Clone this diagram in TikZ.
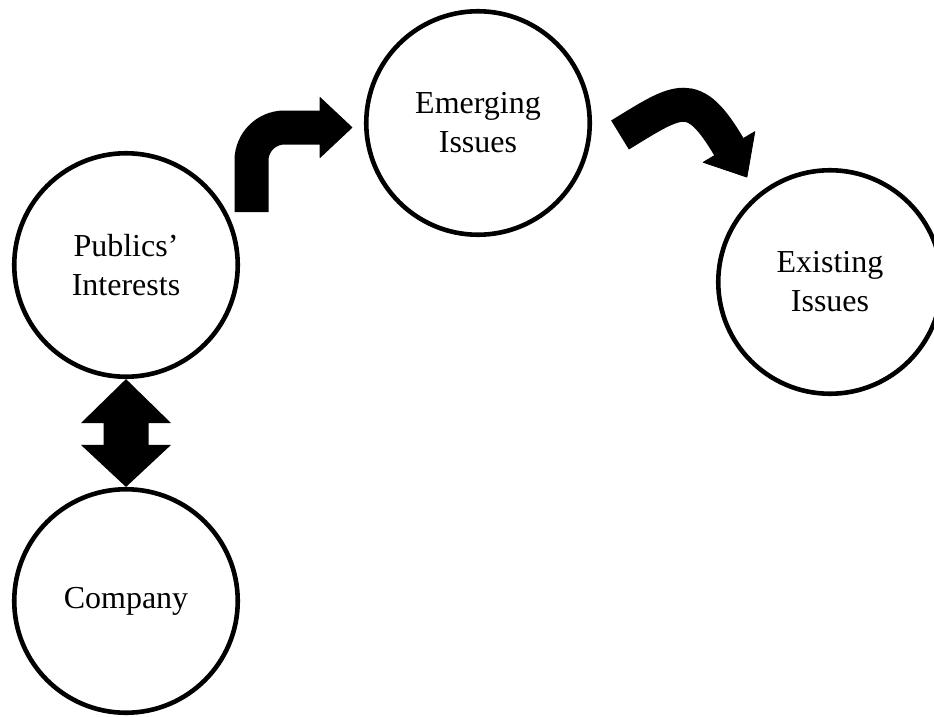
\documentclass[tikz,border=0pt]{standalone}
\usepackage{fontspec}
\setmainfont{Liberation Serif}
\usetikzlibrary{calc}
\begin{document}
\begin{tikzpicture}[x=1pt,y=-1pt,
  bubble/.style={circle, draw=black, line width=4.6pt, minimum size=223.5pt,
    inner sep=0pt, align=center, font=\fontsize{32}{39}\selectfont},
  blockshaft/.style={draw=black, line width=34pt, line cap=butt},
  blockhead/.style={fill=black, draw=black, line width=0.8pt, line join=round}]
\useasboundingbox (0,0) rectangle (934,717);

% the four bubbles
\node[bubble] (pub) at (126,265) {Publics’\\Interests};
\node[bubble] (com) at (126,601) {Company};
\node[bubble] (eme) at (478,123) {Emerging\\Issues};
\node[bubble] (exi) at (830,282) {Existing\\Issues};

% two-way arrow between the public and the company
\coordinate (dt) at (pub.south);
\coordinate (db) at (com.north);
\fill[black] (dt) -- ($(dt)+(45,44)$) -- ($(dt)+(22.5,44)$)
  -- ($(db)+(22.5,-42)$) -- ($(db)+(45,-42)$) -- (db)
  -- ($(db)+(-45,-42)$) -- ($(db)+(-22.5,-42)$)
  -- ($(dt)+(-22.5,44)$) -- ($(dt)+(-45,44)$) -- cycle;

% bent arrow up towards the emerging issues
\coordinate (b0) at (251.5,212);
\coordinate (b1) at (251.5,127.5);
\coordinate (b2) at (321,127.5);
\coordinate (btip) at ($(eme.west)+(-12,4.5)$);
\draw[blockshaft, rounded corners=33pt] (b0) -- (b1) -- (b2);
\filldraw[blockhead] (320,97.5) -- (btip) -- (320,157.5) -- cycle;

% curved arrow down towards the existing issues
\coordinate (c0) at (620,135);
\coordinate (c1) at (729,147);
\draw[blockshaft] (c0) .. controls (679.5,98.6) and (693.3,86.8) .. (c1);
\filldraw[blockhead] (754.8,131.7) -- (746.9,177.1) -- (703.2,162.3) -- cycle;
\end{tikzpicture}
\end{document}
